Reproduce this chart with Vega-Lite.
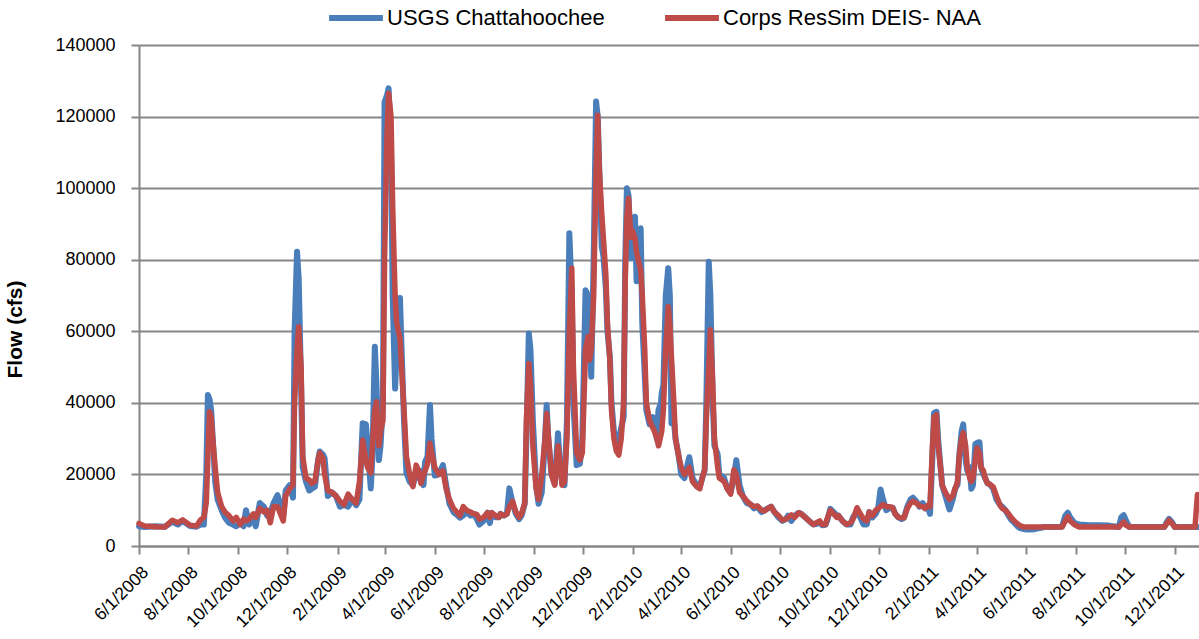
{
  "$schema": "https://vega.github.io/schema/vega-lite/v6.json",
  "width": 1060,
  "height": 501,
  "autosize": {"type": "none"},
  "padding": {"left": 139, "top": 45, "right": 0, "bottom": 93},
  "background": "white",
  "config": {"view": {"stroke": null}, "font": "Liberation Sans, Arial, sans-serif"},
  "data": {"values": [
    {"date":"2008-06-01","usgs":5500,"corps":6300},
    {"date":"2008-06-08","usgs":5300,"corps":5600},
    {"date":"2008-06-21","usgs":5500,"corps":5400},
    {"date":"2008-07-03","usgs":5400,"corps":5300},
    {"date":"2008-07-12","usgs":6800,"corps":7200},
    {"date":"2008-07-19","usgs":6000,"corps":6500},
    {"date":"2008-07-25","usgs":7000,"corps":7300},
    {"date":"2008-08-03","usgs":5600,"corps":5800},
    {"date":"2008-08-11","usgs":5400,"corps":5600},
    {"date":"2008-08-16","usgs":6000,"corps":7300},
    {"date":"2008-08-20","usgs":6000,"corps":8000},
    {"date":"2008-08-23","usgs":20000,"corps":12000},
    {"date":"2008-08-25","usgs":42200,"corps":25000},
    {"date":"2008-08-27","usgs":41000,"corps":37500},
    {"date":"2008-08-29","usgs":38000,"corps":36000},
    {"date":"2008-08-31","usgs":30000,"corps":30000},
    {"date":"2008-09-03","usgs":18000,"corps":22000},
    {"date":"2008-09-06","usgs":13000,"corps":15000},
    {"date":"2008-09-11","usgs":10000,"corps":11000},
    {"date":"2008-09-15","usgs":8000,"corps":9500},
    {"date":"2008-09-20","usgs":6500,"corps":8500},
    {"date":"2008-09-25","usgs":6000,"corps":7000},
    {"date":"2008-09-29","usgs":5500,"corps":8000},
    {"date":"2008-10-04","usgs":6500,"corps":6000},
    {"date":"2008-10-08","usgs":5500,"corps":7500},
    {"date":"2008-10-11","usgs":10000,"corps":7000},
    {"date":"2008-10-15","usgs":6000,"corps":7500},
    {"date":"2008-10-20","usgs":8500,"corps":9000},
    {"date":"2008-10-23","usgs":5500,"corps":8000},
    {"date":"2008-10-28","usgs":12000,"corps":10500},
    {"date":"2008-11-02","usgs":11000,"corps":9500},
    {"date":"2008-11-06","usgs":8500,"corps":10000},
    {"date":"2008-11-10","usgs":9000,"corps":6500},
    {"date":"2008-11-14","usgs":12000,"corps":11000},
    {"date":"2008-11-19","usgs":14200,"corps":11000},
    {"date":"2008-11-26","usgs":8500,"corps":7000},
    {"date":"2008-11-29","usgs":15500,"corps":14000},
    {"date":"2008-12-04","usgs":17000,"corps":16000},
    {"date":"2008-12-08","usgs":13500,"corps":17000},
    {"date":"2008-12-10","usgs":60000,"corps":40000},
    {"date":"2008-12-13","usgs":82200,"corps":55000},
    {"date":"2008-12-15","usgs":75000,"corps":61300},
    {"date":"2008-12-18","usgs":45000,"corps":50000},
    {"date":"2008-12-20","usgs":22000,"corps":25000},
    {"date":"2008-12-24","usgs":18000,"corps":19000},
    {"date":"2008-12-28","usgs":15500,"corps":18500},
    {"date":"2008-12-31","usgs":16000,"corps":17500},
    {"date":"2009-01-04","usgs":16500,"corps":18000},
    {"date":"2009-01-08","usgs":24000,"corps":24000},
    {"date":"2009-01-10","usgs":26400,"corps":26000},
    {"date":"2009-01-14","usgs":25500,"corps":24500},
    {"date":"2009-01-16","usgs":24500,"corps":20000},
    {"date":"2009-01-20","usgs":14000,"corps":15500},
    {"date":"2009-01-25","usgs":15000,"corps":15000},
    {"date":"2009-01-30","usgs":14000,"corps":14000},
    {"date":"2009-02-04","usgs":11000,"corps":12500},
    {"date":"2009-02-09","usgs":11500,"corps":11500},
    {"date":"2009-02-14","usgs":11000,"corps":14500},
    {"date":"2009-02-19","usgs":13000,"corps":13000},
    {"date":"2009-02-24","usgs":11400,"corps":12000},
    {"date":"2009-02-28","usgs":13000,"corps":18000},
    {"date":"2009-03-04","usgs":34300,"corps":29600},
    {"date":"2009-03-08","usgs":34000,"corps":24000},
    {"date":"2009-03-10","usgs":28000,"corps":22000},
    {"date":"2009-03-14","usgs":16100,"corps":20400},
    {"date":"2009-03-16","usgs":25000,"corps":28000},
    {"date":"2009-03-19","usgs":55700,"corps":38000},
    {"date":"2009-03-21","usgs":45000,"corps":40300},
    {"date":"2009-03-24","usgs":24000,"corps":28000},
    {"date":"2009-03-26","usgs":28000,"corps":32000},
    {"date":"2009-03-29","usgs":40000,"corps":35000},
    {"date":"2009-03-31","usgs":124000,"corps":80000},
    {"date":"2009-04-03","usgs":126000,"corps":115000},
    {"date":"2009-04-05","usgs":127900,"corps":126500},
    {"date":"2009-04-08","usgs":110000,"corps":120000},
    {"date":"2009-04-10","usgs":70000,"corps":95000},
    {"date":"2009-04-13","usgs":44000,"corps":70000},
    {"date":"2009-04-15","usgs":55000,"corps":62300},
    {"date":"2009-04-19","usgs":69300,"corps":58000},
    {"date":"2009-04-21","usgs":55000,"corps":50000},
    {"date":"2009-04-24","usgs":35000,"corps":38000},
    {"date":"2009-04-27","usgs":20400,"corps":25000},
    {"date":"2009-05-01","usgs":18000,"corps":20000},
    {"date":"2009-05-05","usgs":17000,"corps":16600},
    {"date":"2009-05-09","usgs":21000,"corps":22600},
    {"date":"2009-05-12","usgs":19000,"corps":21000},
    {"date":"2009-05-15","usgs":21000,"corps":17500},
    {"date":"2009-05-18","usgs":17000,"corps":20000},
    {"date":"2009-05-20","usgs":23500,"corps":21000},
    {"date":"2009-05-23","usgs":25000,"corps":23000},
    {"date":"2009-05-26","usgs":39400,"corps":28700},
    {"date":"2009-05-28","usgs":30000,"corps":26000},
    {"date":"2009-06-01","usgs":19700,"corps":22000},
    {"date":"2009-06-06","usgs":20000,"corps":20000},
    {"date":"2009-06-11","usgs":22600,"corps":21000},
    {"date":"2009-06-15","usgs":17000,"corps":16000},
    {"date":"2009-06-19","usgs":11900,"corps":13000},
    {"date":"2009-06-24","usgs":9500,"corps":10500},
    {"date":"2009-06-28","usgs":8800,"corps":9500},
    {"date":"2009-07-02","usgs":7900,"corps":8500},
    {"date":"2009-07-06","usgs":8500,"corps":11000},
    {"date":"2009-07-10","usgs":9500,"corps":10000},
    {"date":"2009-07-15","usgs":8500,"corps":9500},
    {"date":"2009-07-19","usgs":9000,"corps":9000},
    {"date":"2009-07-23","usgs":7500,"corps":8800},
    {"date":"2009-07-26","usgs":6000,"corps":7500},
    {"date":"2009-07-31","usgs":7000,"corps":8000},
    {"date":"2009-08-05","usgs":9300,"corps":9300},
    {"date":"2009-08-08","usgs":6400,"corps":8000},
    {"date":"2009-08-10","usgs":9300,"corps":9300},
    {"date":"2009-08-15","usgs":8000,"corps":8500},
    {"date":"2009-08-19","usgs":8000,"corps":8000},
    {"date":"2009-08-21","usgs":9000,"corps":9000},
    {"date":"2009-08-25","usgs":8500,"corps":8500},
    {"date":"2009-08-29","usgs":9000,"corps":9000},
    {"date":"2009-09-01","usgs":16100,"corps":11000},
    {"date":"2009-09-05","usgs":12000,"corps":12500},
    {"date":"2009-09-09","usgs":9000,"corps":9500},
    {"date":"2009-09-13","usgs":7500,"corps":8000},
    {"date":"2009-09-16","usgs":8500,"corps":9000},
    {"date":"2009-09-20","usgs":11800,"corps":12000},
    {"date":"2009-09-22","usgs":30000,"corps":35000},
    {"date":"2009-09-25","usgs":59400,"corps":51000},
    {"date":"2009-09-27","usgs":55000,"corps":45000},
    {"date":"2009-09-30","usgs":35000,"corps":28000},
    {"date":"2009-10-04","usgs":17000,"corps":16000},
    {"date":"2009-10-07","usgs":11800,"corps":13000},
    {"date":"2009-10-11","usgs":15000,"corps":20000},
    {"date":"2009-10-15","usgs":30000,"corps":30000},
    {"date":"2009-10-17","usgs":39400,"corps":37000},
    {"date":"2009-10-19","usgs":30000,"corps":31000},
    {"date":"2009-10-23","usgs":20000,"corps":20000},
    {"date":"2009-10-27","usgs":17400,"corps":17000},
    {"date":"2009-10-31","usgs":31500,"corps":28000},
    {"date":"2009-11-02","usgs":24000,"corps":24000},
    {"date":"2009-11-05","usgs":18000,"corps":17000},
    {"date":"2009-11-08","usgs":17000,"corps":18000},
    {"date":"2009-11-11","usgs":35000,"corps":30000},
    {"date":"2009-11-14","usgs":87400,"corps":60000},
    {"date":"2009-11-17","usgs":70000,"corps":77600},
    {"date":"2009-11-19","usgs":40000,"corps":50000},
    {"date":"2009-11-23","usgs":22600,"corps":26000},
    {"date":"2009-11-27","usgs":23000,"corps":24000},
    {"date":"2009-11-30","usgs":30000,"corps":26000},
    {"date":"2009-12-04","usgs":71500,"corps":55000},
    {"date":"2009-12-07","usgs":70000,"corps":58500},
    {"date":"2009-12-09","usgs":58000,"corps":52000},
    {"date":"2009-12-11","usgs":47300,"corps":55100},
    {"date":"2009-12-14","usgs":80000,"corps":70000},
    {"date":"2009-12-17","usgs":124200,"corps":105000},
    {"date":"2009-12-19","usgs":120000,"corps":120400},
    {"date":"2009-12-21","usgs":105000,"corps":105000},
    {"date":"2009-12-24","usgs":83600,"corps":92900},
    {"date":"2009-12-26","usgs":81000,"corps":86000},
    {"date":"2009-12-29","usgs":72000,"corps":76000},
    {"date":"2009-12-31","usgs":60000,"corps":62000},
    {"date":"2010-01-03","usgs":52900,"corps":52000},
    {"date":"2010-01-05","usgs":40000,"corps":38000},
    {"date":"2010-01-08","usgs":32000,"corps":30000},
    {"date":"2010-01-11","usgs":29000,"corps":26500},
    {"date":"2010-01-14","usgs":30000,"corps":25400},
    {"date":"2010-01-17","usgs":33000,"corps":30000},
    {"date":"2010-01-20","usgs":36000,"corps":40000},
    {"date":"2010-01-22","usgs":80000,"corps":75000},
    {"date":"2010-01-24","usgs":100000,"corps":92000},
    {"date":"2010-01-26","usgs":98000,"corps":97200},
    {"date":"2010-01-29","usgs":80500,"corps":86300},
    {"date":"2010-01-31","usgs":86000,"corps":88000},
    {"date":"2010-02-03","usgs":92000,"corps":86000},
    {"date":"2010-02-05","usgs":74000,"corps":82000},
    {"date":"2010-02-07","usgs":85000,"corps":80000},
    {"date":"2010-02-10","usgs":88800,"corps":77000},
    {"date":"2010-02-12","usgs":62000,"corps":70000},
    {"date":"2010-02-15","usgs":48000,"corps":55000},
    {"date":"2010-02-17","usgs":38000,"corps":40000},
    {"date":"2010-02-21","usgs":34000,"corps":35000},
    {"date":"2010-02-25","usgs":36000,"corps":33000},
    {"date":"2010-02-27","usgs":35000,"corps":32000},
    {"date":"2010-03-02","usgs":29900,"corps":30000},
    {"date":"2010-03-04","usgs":38000,"corps":28000},
    {"date":"2010-03-07","usgs":40000,"corps":31000},
    {"date":"2010-03-08","usgs":42700,"corps":32000},
    {"date":"2010-03-10","usgs":45000,"corps":38000},
    {"date":"2010-03-13","usgs":70000,"corps":55000},
    {"date":"2010-03-16","usgs":77600,"corps":66900},
    {"date":"2010-03-18","usgs":70000,"corps":62000},
    {"date":"2010-03-20","usgs":34300,"corps":52700},
    {"date":"2010-03-23","usgs":35000,"corps":40000},
    {"date":"2010-03-25","usgs":30000,"corps":30000},
    {"date":"2010-03-29","usgs":25000,"corps":25000},
    {"date":"2010-04-01","usgs":20000,"corps":22000},
    {"date":"2010-04-05","usgs":19000,"corps":20000},
    {"date":"2010-04-09","usgs":23000,"corps":21000},
    {"date":"2010-04-11","usgs":24800,"corps":22000},
    {"date":"2010-04-15","usgs":19000,"corps":18000},
    {"date":"2010-04-20","usgs":17000,"corps":16600},
    {"date":"2010-04-24","usgs":16600,"corps":16000},
    {"date":"2010-04-27","usgs":19000,"corps":19000},
    {"date":"2010-04-30","usgs":21300,"corps":21300},
    {"date":"2010-05-02","usgs":40000,"corps":35000},
    {"date":"2010-05-05","usgs":79400,"corps":50000},
    {"date":"2010-05-07","usgs":70000,"corps":60400},
    {"date":"2010-05-10","usgs":40000,"corps":45000},
    {"date":"2010-05-12","usgs":28000,"corps":30000},
    {"date":"2010-05-16","usgs":25600,"corps":22000},
    {"date":"2010-05-18","usgs":20000,"corps":19000},
    {"date":"2010-05-24","usgs":19000,"corps":18000},
    {"date":"2010-05-28","usgs":16000,"corps":16000},
    {"date":"2010-06-01","usgs":15000,"corps":14500},
    {"date":"2010-06-05","usgs":19000,"corps":21300},
    {"date":"2010-06-08","usgs":24000,"corps":20000},
    {"date":"2010-06-12","usgs":17000,"corps":15000},
    {"date":"2010-06-16","usgs":14000,"corps":14000},
    {"date":"2010-06-21","usgs":12000,"corps":12600},
    {"date":"2010-06-26","usgs":11500,"corps":11500},
    {"date":"2010-06-30","usgs":10500,"corps":11000},
    {"date":"2010-07-04","usgs":11000,"corps":11200},
    {"date":"2010-07-09","usgs":9500,"corps":10000},
    {"date":"2010-07-13","usgs":10000,"corps":9800},
    {"date":"2010-07-17","usgs":10500,"corps":10500},
    {"date":"2010-07-21","usgs":11000,"corps":11000},
    {"date":"2010-07-25","usgs":9500,"corps":9500},
    {"date":"2010-07-30","usgs":8000,"corps":8500},
    {"date":"2010-08-04","usgs":7000,"corps":7200},
    {"date":"2010-08-08","usgs":7500,"corps":7500},
    {"date":"2010-08-11","usgs":8500,"corps":8000},
    {"date":"2010-08-15","usgs":7000,"corps":8700},
    {"date":"2010-08-19","usgs":8500,"corps":8000},
    {"date":"2010-08-24","usgs":9300,"corps":9300},
    {"date":"2010-08-27","usgs":9000,"corps":9000},
    {"date":"2010-09-01","usgs":8000,"corps":8000},
    {"date":"2010-09-06","usgs":7000,"corps":7000},
    {"date":"2010-09-11","usgs":6000,"corps":6000},
    {"date":"2010-09-15","usgs":6200,"corps":6500},
    {"date":"2010-09-19","usgs":6500,"corps":7000},
    {"date":"2010-09-22","usgs":5800,"corps":6000},
    {"date":"2010-09-26","usgs":5900,"corps":6000},
    {"date":"2010-09-28","usgs":7000,"corps":7500},
    {"date":"2010-10-02","usgs":10400,"corps":10000},
    {"date":"2010-10-06","usgs":9500,"corps":9000},
    {"date":"2010-10-10","usgs":8500,"corps":8000},
    {"date":"2010-10-12","usgs":8500,"corps":8500},
    {"date":"2010-10-17","usgs":7000,"corps":7000},
    {"date":"2010-10-22","usgs":6000,"corps":6000},
    {"date":"2010-10-27","usgs":6000,"corps":6500},
    {"date":"2010-10-30","usgs":8000,"corps":7500},
    {"date":"2010-11-04","usgs":9500,"corps":10700},
    {"date":"2010-11-08","usgs":8000,"corps":9000},
    {"date":"2010-11-12","usgs":6000,"corps":7500},
    {"date":"2010-11-16","usgs":6000,"corps":7000},
    {"date":"2010-11-19","usgs":9500,"corps":9500},
    {"date":"2010-11-23","usgs":8000,"corps":8500},
    {"date":"2010-11-27","usgs":9000,"corps":10000},
    {"date":"2010-11-30","usgs":10500,"corps":10500},
    {"date":"2010-12-03","usgs":15800,"corps":11000},
    {"date":"2010-12-06","usgs":13000,"corps":11600},
    {"date":"2010-12-10","usgs":10000,"corps":11000},
    {"date":"2010-12-14","usgs":10500,"corps":11000},
    {"date":"2010-12-18","usgs":10700,"corps":10700},
    {"date":"2010-12-21","usgs":9000,"corps":9000},
    {"date":"2010-12-25","usgs":8000,"corps":8000},
    {"date":"2010-12-29","usgs":7500,"corps":7900},
    {"date":"2011-01-01","usgs":7900,"corps":7900},
    {"date":"2011-01-05","usgs":11000,"corps":10500},
    {"date":"2011-01-09","usgs":13000,"corps":12000},
    {"date":"2011-01-12","usgs":13500,"corps":12500},
    {"date":"2011-01-16","usgs":12500,"corps":12000},
    {"date":"2011-01-20","usgs":11000,"corps":11200},
    {"date":"2011-01-24","usgs":12000,"corps":11000},
    {"date":"2011-01-27","usgs":10500,"corps":10500},
    {"date":"2011-01-31","usgs":10500,"corps":11500},
    {"date":"2011-02-02","usgs":9000,"corps":11000},
    {"date":"2011-02-05","usgs":25000,"corps":28000},
    {"date":"2011-02-07","usgs":37200,"corps":36000},
    {"date":"2011-02-10","usgs":37500,"corps":36700},
    {"date":"2011-02-12","usgs":30000,"corps":28000},
    {"date":"2011-02-15","usgs":22000,"corps":22000},
    {"date":"2011-02-17","usgs":17000,"corps":17000},
    {"date":"2011-02-21","usgs":14000,"corps":15000},
    {"date":"2011-02-26","usgs":10200,"corps":13000},
    {"date":"2011-03-02","usgs":13000,"corps":14000},
    {"date":"2011-03-05","usgs":16000,"corps":16000},
    {"date":"2011-03-08","usgs":17200,"corps":18000},
    {"date":"2011-03-10","usgs":25000,"corps":25000},
    {"date":"2011-03-13","usgs":32000,"corps":30000},
    {"date":"2011-03-15","usgs":34000,"corps":31600},
    {"date":"2011-03-18","usgs":24000,"corps":28000},
    {"date":"2011-03-20","usgs":21000,"corps":22000},
    {"date":"2011-03-23","usgs":22000,"corps":19000},
    {"date":"2011-03-25","usgs":16000,"corps":18000},
    {"date":"2011-03-27","usgs":17000,"corps":19000},
    {"date":"2011-03-30","usgs":28500,"corps":24000},
    {"date":"2011-04-01","usgs":28800,"corps":27400},
    {"date":"2011-04-04","usgs":29000,"corps":26000},
    {"date":"2011-04-06","usgs":22000,"corps":22000},
    {"date":"2011-04-09","usgs":20000,"corps":21000},
    {"date":"2011-04-11","usgs":19000,"corps":19000},
    {"date":"2011-04-14","usgs":17500,"corps":17500},
    {"date":"2011-04-17","usgs":17200,"corps":17200},
    {"date":"2011-04-21","usgs":16000,"corps":16500},
    {"date":"2011-04-25","usgs":13000,"corps":14000},
    {"date":"2011-04-29","usgs":11600,"corps":11600},
    {"date":"2011-05-02","usgs":11000,"corps":10500},
    {"date":"2011-05-06","usgs":10000,"corps":10000},
    {"date":"2011-05-10","usgs":8500,"corps":9000},
    {"date":"2011-05-13","usgs":7400,"corps":8000},
    {"date":"2011-05-17","usgs":6500,"corps":7000},
    {"date":"2011-05-21","usgs":5500,"corps":6200},
    {"date":"2011-05-24","usgs":5000,"corps":5700},
    {"date":"2011-05-29","usgs":4700,"corps":5300},
    {"date":"2011-06-04","usgs":4600,"corps":5300},
    {"date":"2011-06-11","usgs":4700,"corps":5300},
    {"date":"2011-06-17","usgs":5000,"corps":5300},
    {"date":"2011-06-23","usgs":5300,"corps":5300},
    {"date":"2011-07-05","usgs":5300,"corps":5300},
    {"date":"2011-07-15","usgs":5400,"corps":5300},
    {"date":"2011-07-19","usgs":8500,"corps":7000},
    {"date":"2011-07-22","usgs":9300,"corps":8200},
    {"date":"2011-07-25","usgs":8000,"corps":7000},
    {"date":"2011-07-30","usgs":6500,"corps":6000},
    {"date":"2011-08-05","usgs":6000,"corps":5300},
    {"date":"2011-08-17","usgs":5800,"corps":5300},
    {"date":"2011-08-30","usgs":5800,"corps":5300},
    {"date":"2011-09-11","usgs":5700,"corps":5300},
    {"date":"2011-09-23","usgs":5300,"corps":5300},
    {"date":"2011-09-26","usgs":8000,"corps":6000},
    {"date":"2011-09-29","usgs":8600,"corps":6700},
    {"date":"2011-10-02","usgs":7000,"corps":5800},
    {"date":"2011-10-06","usgs":5300,"corps":5300},
    {"date":"2011-10-18","usgs":5300,"corps":5300},
    {"date":"2011-10-30","usgs":5300,"corps":5300},
    {"date":"2011-11-18","usgs":5300,"corps":5300},
    {"date":"2011-11-22","usgs":7000,"corps":6500},
    {"date":"2011-11-24","usgs":7600,"corps":7200},
    {"date":"2011-11-28","usgs":6500,"corps":6200},
    {"date":"2011-12-01","usgs":5300,"corps":5300},
    {"date":"2011-12-13","usgs":5300,"corps":5300},
    {"date":"2011-12-26","usgs":5300,"corps":5300},
    {"date":"2011-12-29","usgs":5300,"corps":14400}
  ]},
  "encoding": {
    "x": {
      "field": "date", "type": "temporal",
      "scale": {"type": "utc", "domain": [{"year": 2008, "month": 6, "date": 1, "utc": true}, {"year": 2011, "month": 12, "date": 30, "hours": 22, "utc": true}]},
      "axis": {
        "values": [
          {"year": 2008, "month": 6, "date": 1, "utc": true},
          {"year": 2008, "month": 8, "date": 1, "utc": true},
          {"year": 2008, "month": 10, "date": 1, "utc": true},
          {"year": 2008, "month": 12, "date": 1, "utc": true},
          {"year": 2009, "month": 2, "date": 1, "utc": true},
          {"year": 2009, "month": 4, "date": 1, "utc": true},
          {"year": 2009, "month": 6, "date": 1, "utc": true},
          {"year": 2009, "month": 8, "date": 1, "utc": true},
          {"year": 2009, "month": 10, "date": 1, "utc": true},
          {"year": 2009, "month": 12, "date": 1, "utc": true},
          {"year": 2010, "month": 2, "date": 1, "utc": true},
          {"year": 2010, "month": 4, "date": 1, "utc": true},
          {"year": 2010, "month": 6, "date": 1, "utc": true},
          {"year": 2010, "month": 8, "date": 1, "utc": true},
          {"year": 2010, "month": 10, "date": 1, "utc": true},
          {"year": 2010, "month": 12, "date": 1, "utc": true},
          {"year": 2011, "month": 2, "date": 1, "utc": true},
          {"year": 2011, "month": 4, "date": 1, "utc": true},
          {"year": 2011, "month": 6, "date": 1, "utc": true},
          {"year": 2011, "month": 8, "date": 1, "utc": true},
          {"year": 2011, "month": 10, "date": 1, "utc": true},
          {"year": 2011, "month": 12, "date": 1, "utc": true}
        ],
        "format": "%-m/%-d/%Y",
        "labelAngle": -45,
        "labelFontSize": 17.5,
        "labelColor": "black",
        "labelPadding": 9,
        "labelOverlap": false,
        "labelFlush": false,
        "grid": false,
        "title": null,
        "domainColor": "#868686",
        "domainWidth": 2,
        "tickColor": "#868686",
        "tickWidth": 2,
        "tickSize": 8
      }
    }
  },
  "layer": [
    {
      "mark": {"type": "line", "strokeWidth": 6, "strokeJoin": "round", "strokeCap": "round"},
      "encoding": {
        "y": {
          "field": "usgs", "type": "quantitative",
          "scale": {"domain": [0, 140000]},
          "axis": {
            "values": [0, 20000, 40000, 60000, 80000, 100000, 120000, 140000],
            "format": "d",
            "labelFontSize": 18,
            "labelColor": "black",
            "labelPadding": 16,
            "grid": true,
            "gridColor": "#868686",
            "gridWidth": 2,
            "domainColor": "#868686",
            "domainWidth": 2,
            "tickColor": "#868686",
            "tickWidth": 2,
            "tickSize": 8,
            "title": "Flow (cfs)",
            "titleFontSize": 21,
            "titleFontWeight": "bold",
            "titleColor": "black",
            "titleX": -124,
            "titleY": 284,
            "titleBaseline": "middle",
            "titleAlign": "center"
          }
        },
        "color": {
          "datum": "USGS Chattahoochee", "type": "nominal",
          "scale": {"domain": ["USGS Chattahoochee", "Corps ResSim DEIS- NAA"], "range": ["#4A7EBB", "#BE4B48"]},
          "legend": {
            "orient": "none", "legendX": 187, "legendY": -57,
            "direction": "horizontal", "title": null,
            "symbolType": "stroke", "symbolSize": 2900, "symbolStrokeWidth": 6,
            "labelFontSize": 22, "labelColor": "black", "labelOffset": 1,
            "labelLimit": 500,
            "columnPadding": 48
          }
        }
      }
    },
    {
      "mark": {"type": "line", "strokeWidth": 5.5, "strokeJoin": "round", "strokeCap": "round"},
      "encoding": {
        "y": {"field": "corps", "type": "quantitative", "title": "Flow (cfs)"},
        "color": {"datum": "Corps ResSim DEIS- NAA", "type": "nominal"}
      }
    }
  ]
}
